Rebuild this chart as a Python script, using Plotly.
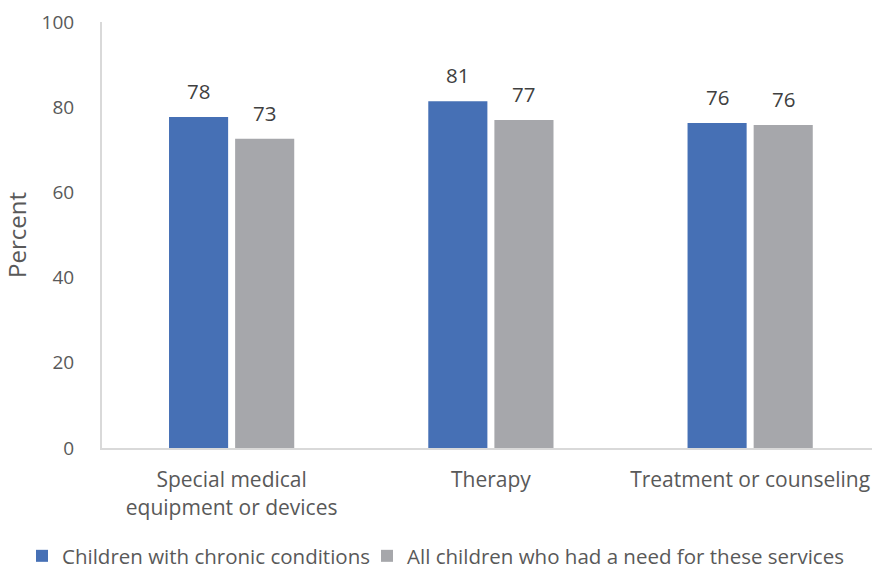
import plotly.graph_objects as go

# Share of children whose needs for each service type were met
categories = ["Special medical<br>equipment or devices", "Therapy", "Treatment or counseling"]
chronic = [77.7, 81.4, 76.3]
all_children = [72.6, 77.0, 75.8]
series_names = ["Children with chronic conditions", "All children who had a need for these services"]
y_ticks = [0, 20, 40, 60, 80, 100]

FONT = "Open Sans"
BLUE = "#4670B5"
GRAY = "#A6A7AB"
TEXT = "#595959"

fig = go.Figure()
series = [
    (series_names[0], chronic, BLUE, -33, "legend"),
    (series_names[1], all_children, GRAY, 33, "legend2"),
]
for name, vals, color, shift, leg in series:
    fig.add_trace(go.Bar(
        x=categories, y=vals, name=name, legend=leg,
        marker=dict(color=color, line=dict(width=0)),
    ))
    # value labels above each bar
    for cat, v in zip(categories, vals):
        fig.add_annotation(
            x=cat, y=v, xref="x", yref="y", text=f"{round(v)}",
            showarrow=False, xshift=shift, yshift=10, yanchor="bottom",
            font=dict(family=FONT, size=20.5, color="#404040"),
        )

legend_style = dict(
    orientation="h", xref="container", yref="container",
    xanchor="left", y=1 - 556 / 569, yanchor="middle",
    font=dict(family=FONT, size=20.5, color=TEXT),
    itemwidth=30, bgcolor="rgba(0,0,0,0)",
)

fig.update_layout(
    width=872, height=569,
    margin=dict(l=102, r=0, t=22, b=121),
    paper_bgcolor="white", plot_bgcolor="white",
    barmode="group", bargap=0.49, bargroupgap=0.106,
    font=dict(family=FONT, size=19, color=TEXT),
    showlegend=True,
    legend=dict(x=22 / 872, **legend_style),
    legend2=dict(x=367 / 872, **legend_style),
)
fig.update_xaxes(
    range=[-0.5, 2.47], showgrid=False, zeroline=False,
    showline=True, linecolor="#D9D9D9", linewidth=2,
    ticks="", tickfont=dict(family=FONT, size=21, color=TEXT),
    ticklabelstandoff=12,
)
fig.update_yaxes(
    range=[0, 100], tickvals=y_ticks, showgrid=False, zeroline=False,
    showline=True, linecolor="#D9D9D9", linewidth=2,
    ticks="", ticklabelstandoff=22,
    tickfont=dict(family=FONT, size=19, color=TEXT),
    title=dict(text="Percent", font=dict(family=FONT, size=24, color=TEXT), standoff=14),
)

fig.write_html("out.html")
